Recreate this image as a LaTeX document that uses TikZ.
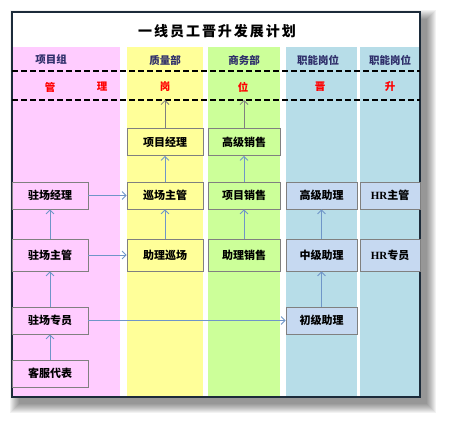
\documentclass[tikz,border=0pt]{standalone}
\usepackage{fontspec}
\setmainfont{Noto Sans CJK SC}
\newfontfamily\latinfont{Liberation Serif}
\usetikzlibrary{arrows.meta}
\definecolor{pinkbg}{HTML}{FFCCFF}
\definecolor{yellowbg}{HTML}{FFFF99}
\definecolor{greenbg}{HTML}{CCFF99}
\definecolor{bluebg}{HTML}{B7DDE8}
\definecolor{bluebox}{HTML}{C6D9F1}
\definecolor{boxline}{HTML}{808080}
\definecolor{arrowblue}{HTML}{6F96C8}
\definecolor{headnavy}{HTML}{2E2E6A}
\definecolor{framenavy}{HTML}{1C2B3A}
\tikzstyle{box}=[draw=boxline, line width=0.8pt, minimum width=76pt, minimum height=27pt, inner sep=0pt, font=\bfseries\fontsize{11}{13}\selectfont]
\tikzstyle{head}=[text=headnavy, font=\bfseries\fontsize{10.5}{12}\selectfont]
\tikzstyle{redlabel}=[text=red, font=\bfseries\fontsize{10.5}{12}\selectfont]
\tikzstyle{grid}=[black, line width=1.5pt, dash pattern=on 6pt off 3pt]

\begin{document}
\begin{tikzpicture}[x=1pt, y=1pt]
      \useasboundingbox (0,0) rectangle (450,-425);
      % shadow and frame
      \foreach \s in {0,...,9}
        \fill[black, opacity=0.05] (19-\s,-19+\s) rectangle (427+\s,-404-\s);
      \fill[white] (12,-12) rectangle (420,-397);
      % columns
      \fill[pinkbg] (12,-47) rectangle (120,-397);
      \fill[yellowbg] (127,-47) rectangle (203,-397);
      \fill[greenbg] (208,-47) rectangle (280,-397);
      \fill[bluebg] (286,-47) rectangle (357,-397);
      \fill[bluebg] (360,-47) rectangle (420,-397);
      \draw[framenavy, line width=1.5pt] (12,-12) rectangle (420,-397);
      \node[font=\bfseries\fontsize{14}{16}\selectfont](title) at (217,-31) {\addfontfeature{LetterSpace=14}一线员工晋升发展计划};
      % headers
      \node[head](h1) at (51,-60) {项目组};
      \node[head](h2) at (165,-60) {质量部};
      \node[head](h3) at (244,-60) {商务部};
      \node[head](h4) at (318,-60) {职能岗位};
      \node[head](h5) at (390,-60) {职能岗位};
      \draw[grid] (12,-71) -- (420,-71);
      \node[redlabel](r1) at (50,-87) {管};
      \node[redlabel](r2) at (102,-87) {理};
      \node[redlabel](r3) at (165,-87) {岗};
      \node[redlabel](r4) at (243,-87) {位};
      \node[redlabel](r5) at (320,-87) {晋};
      \node[redlabel](r6) at (390,-87) {升};
      \draw[grid] (12,-100) -- (420,-100);
      \coordinate (t1) at (165,-100);
      \coordinate (t2) at (244,-100);
      % boxes
      \node[box, fill=pinkbg](kfdb) at (50,-373.5) {客服代表};
      \node[box, fill=pinkbg](zczy) at (50,-320.5) {驻场专员};
      \node[box, fill=pinkbg, minimum height=32pt](zczg) at (50,-255) {驻场主管};
      \node[box, fill=pinkbg](zcjl) at (50,-195.5) {驻场经理};
      \node[box, fill=yellowbg, minimum height=32pt](zlxc) at (165,-255) {助理巡场};
      \node[box, fill=yellowbg](xczg) at (165,-195.5) {巡场主管};
      \node[box, fill=yellowbg](xmjl) at (165,-142) {项目经理};
      \node[box, fill=greenbg, minimum width=72pt, minimum height=32pt](zlxs) at (244,-255) {助理销售};
      \node[box, fill=greenbg, minimum width=72pt](xmxs) at (244,-195.5) {项目销售};
      \node[box, fill=greenbg, minimum width=72pt](gjxs) at (244,-142) {高级销售};
      \node[box, fill=bluebox, minimum width=71pt](cjzl) at (321.5,-320.5) {初级助理};
      \node[box, fill=bluebox, minimum width=71pt, minimum height=32pt](zjzl) at (321.5,-255) {中级助理};
      \node[box, fill=bluebox, minimum width=71pt](gjzl) at (321.5,-195.5) {高级助理};
      \node[box, fill=bluebox, minimum width=60pt, minimum height=32pt](hrzy) at (390,-255) {{\latinfont HR}专员};
      \node[box, fill=bluebox, minimum width=60pt](hrzg) at (390,-195.5) {{\latinfont HR}主管};
      \begin{scope}[every path/.style={-{Straight Barb[length=4pt, width=8pt]}, arrowblue, line width=0.8pt}]
        \draw (kfdb) -- (zczy);
        \draw (zczy) -- (zczg);
        \draw (zczg) -- (zcjl);
        \draw (zcjl) -- (xczg);
        \draw (zczg) -- (zlxc);
        \draw (zlxc) -- (xczg);
        \draw (xczg) -- (xmjl);
        \draw (zlxs) -- (xmxs);
        \draw (xmxs) -- (gjxs);
        \draw (zczy) -- (cjzl);
        \draw (cjzl) -- (zjzl);
        \draw (zjzl) -- (gjzl);
      \end{scope}
      \begin{scope}[every path/.style={-{Straight Barb[length=4pt, width=8pt]}, gray, line width=0.8pt}]
        \draw (xmjl) -- (t1);
        \draw (gjxs) -- (t2);
      \end{scope}
    \end{tikzpicture}
\end{document}
